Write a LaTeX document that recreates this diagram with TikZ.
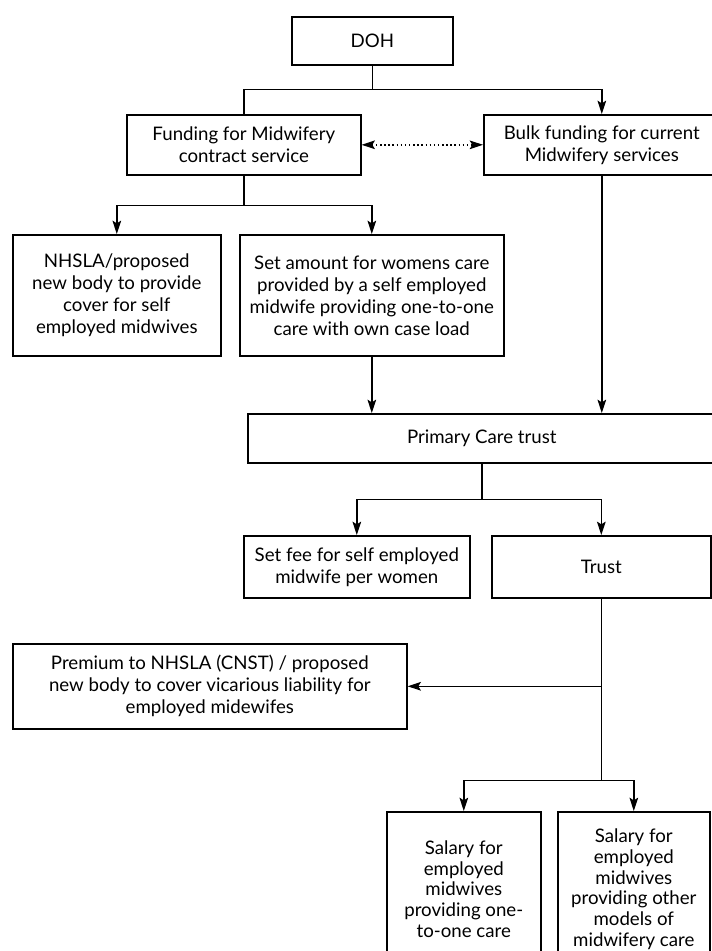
\documentclass[tikz,border=0pt]{standalone}
\usepackage{fontspec}
\setmainfont{Lato}
\usetikzlibrary{arrows.meta}

\begin{document}
\begin{tikzpicture}[x=0.75pt,y=0.75pt,yscale=-1,xscale=1,
  box/.style={draw, line width=1.2pt, anchor=north west, inner sep=0pt, align=center,
    font=\fontsize{14}{16.5}\selectfont},
  arr/.style={line width=1.1pt, -{Stealth[length=10pt,width=6.5pt,inset=2pt]}},
  link/.style={line width=1.1pt},
  dotarr/.style={line width=1.1pt, dotted, {Stealth[length=10pt,width=6.5pt,inset=2pt]}-{Stealth[length=10pt,width=6.5pt,inset=2pt]}}]
\useasboundingbox (0,0) rectangle (712,951);
\clip (0,0) rectangle (712,951);

% Text Node
\node (doh) [box, minimum width=120.75pt, minimum height=36pt] at (291,16) {DOH};
% Text Node
\node (fund) [box, minimum width=175.5pt, minimum height=45pt] at (126,114) {Funding for Midwifery\\contract service};
% Text Node
\node (bulk) [box, minimum width=177pt, minimum height=45pt] at (483,114) {Bulk funding for current\\Midwifery services};
% Text Node
\node (nhsla) [box, minimum width=156pt, minimum height=90.75pt] at (12,234) {NHSLA/proposed\\new body to provide\\cover for self\\employed midwives};
% Text Node
\node (setamt) [box, minimum width=198pt, minimum height=90.75pt] at (239,234) {Set amount for womens care\\provided by a self employed\\midwife providing one-to-one\\care with own case load};
% Text Node
\node (pct) [box, minimum width=351pt, minimum height=36.75pt] at (247,413) {Primary Care trust};
% Text Node
\node (setfee) [box, minimum width=169.5pt, minimum height=46.5pt] at (243,535) {Set fee for self employed\\midwife per women};
% Text Node
\node (trust) [box, minimum width=164.25pt, minimum height=46.5pt] at (491,535) {Trust};
% Text Node
\node (premium) [box, minimum width=295.5pt, minimum height=63.75pt] at (12,643) {Premium to NHSLA (CNST) / proposed\\new body to cover vicarious liability for\\employed midewifes};
% Text Node
\node (salone) [box, minimum width=115.5pt, minimum height=116pt, font=\fontsize{14}{15.6}\selectfont] at (386,811) {Salary for\\employed\\midwives\\providing one-\\to-one care};
% Text Node
\node (saltwo) [box, minimum width=114pt, minimum height=116pt, font=\fontsize{14}{15.6}\selectfont] at (557,811) {Salary for\\employed\\midwives\\providing other\\models of\\midwifery care};

%Straight Lines
\path (doh.south) ++(0,24) coordinate (j1);
\draw [link] (doh.south) -- (j1) -| (fund.north);
\draw [arr] (j1) -| (bulk.north);
\draw [dotarr] (fund.east) -- (bulk.west);
%Straight Lines
\path (fund.south) ++(0,30) coordinate (j2);
\draw [arr] (fund.south) -- (j2) -| (nhsla.north);
\draw [arr] (j2) -| (setamt.north);
%Straight Lines
\draw [arr] (setamt.south) -- (setamt.south |- pct.north);
\draw [arr] (bulk.south) -- (bulk.south |- pct.north);
%Straight Lines
\path (pct.south) ++(0,36) coordinate (j3);
\draw [arr] (pct.south) -- (j3) -| (setfee.north);
\draw [arr] (j3) -| (trust.north);
%Straight Lines
\path (trust.south) ++(0,182) coordinate (j4);
\draw [link] (trust.south) -- (j4);
\draw [arr] (trust.south |- premium.east) -- (premium.east);
\draw [arr] (j4) -| (salone.north);
\draw [arr] (j4) -| (saltwo.north);

\end{tikzpicture}
\end{document}
